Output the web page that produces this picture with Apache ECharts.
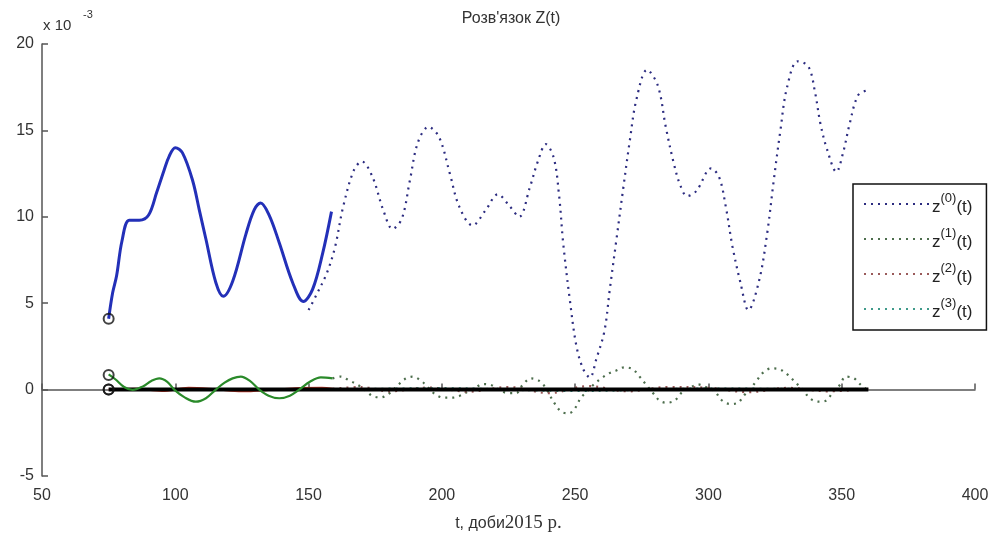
<!DOCTYPE html>
<html>
<head>
<meta charset="utf-8">
<script src="https://cdn.jsdelivr.net/npm/echarts@6/dist/echarts.min.js"></script>
<style>
    html, body { margin: 0; padding: 0; background: #fff; }
    #chart { width: 994px; height: 538px; }
</style>
</head>
<body>
<div id="chart"></div>
<script>
// ticks
var xTicks = { min: 50, max: 400, step: 50 }
var yTicks = { min: -5, max: 20, step: 5 }

// z(0): fitted part (solid) and forecast (dotted), in units of 1e-3
var z0Fit = [[75, 4.1], [76.5, 5.6], [78, 6.6], [80, 8.6], [82.7, 9.8], [86.5, 9.8], [90, 10.1], [93, 11.4],
    [95.8, 12.7], [97.7, 13.5], [100, 14.0], [102.7, 13.7], [106.5, 12.1], [109, 10.4], [111.5, 8.7],
    [115.2, 6.2], [118, 5.4], [121.6, 6.3], [126.5, 9.0], [129.6, 10.4], [132, 10.8], [135.2, 10.1],
    [139, 8.5], [144, 6.2], [148, 5.1], [151.5, 5.8], [155.3, 7.9], [158.6, 10.3]]
var z0Forecast = [[150, 4.6], [153, 5.5], [157, 6.8], [160, 8.3], [163, 10.6], [167, 12.7], [170, 13.2],
    [174, 12.3], [178, 10.4], [181.5, 9.3], [185, 9.9], [188, 12.1], [191, 14.3], [195, 15.2], [199, 14.6],
    [203, 12.5], [206.5, 10.6], [211.5, 9.5], [216.5, 10.4], [221, 11.3], [225.5, 10.6], [229, 10.0],
    [233, 11.7], [236, 13.2], [239, 14.2], [242, 13.4], [244, 11.2], [245.5, 8.5], [248, 5.2], [250.5, 2.5],
    [253, 1.2], [255.5, 0.7], [258, 1.8], [261, 3.4], [263, 5.8], [265.5, 8.7], [268, 11.6], [270.5, 14.4],
    [273, 16.8], [277, 18.5], [281, 17.6], [284, 15.2], [287, 13.1], [289.5, 11.8], [292, 11.2], [295.5, 11.5],
    [301, 12.8], [304, 12.3], [306.5, 10.6], [309, 8.3], [312, 6.2], [315, 4.6], [319, 6.3], [322, 9.0],
    [324.5, 12.1], [327, 15.0], [329.5, 17.5], [333.5, 19.0], [337.5, 18.7], [340, 17.2], [342, 15.4],
    [344.5, 13.9], [348, 12.6], [350.5, 13.7], [353, 15.4], [356, 17.0], [359, 17.3]]

// z(1)
var z1Fit = [[75, 0.88], [77.5, 0.6], [80.8, 0.15], [84, -0.02], [88, 0.2], [91, 0.5], [94, 0.65], [97, 0.45],
    [99.6, 0.0], [103.5, -0.45], [107.7, -0.7], [111.5, -0.5], [115.2, 0.0], [118.5, 0.4], [121.5, 0.65],
    [124.6, 0.75], [128, 0.5], [131.5, 0.0], [135, -0.35], [139, -0.5], [143, -0.35], [146.5, 0.0],
    [150.5, 0.45], [154.6, 0.71], [159, 0.65]]
var z1Forecast = [[159, 0.65], [162, 0.75], [165, 0.55], [168.5, 0.27], [171, 0.0], [174, -0.37], [177, -0.45],
    [180, -0.25], [183, 0.17], [186, 0.6], [189, 0.75], [192.3, 0.5], [195, 0.1], [197.8, -0.31], [201, -0.47],
    [203.8, -0.47], [206.6, -0.37], [209.7, -0.12], [212.5, 0.1], [215.3, 0.32], [218.4, 0.27], [221.6, -0.02],
    [224.7, -0.2], [227.9, -0.2], [230.3, 0.27], [233.5, 0.65], [236.6, 0.5], [239, 0.1], [240.4, -0.3],
    [242.3, -0.8], [244.8, -1.28], [247.7, -1.37], [250.3, -1.0], [252, -0.5], [254.5, -0.1], [257, 0.3],
    [259.8, 0.65], [262.7, 0.94], [265.4, 1.1], [268.5, 1.29], [271.7, 1.17], [274.4, 0.71], [276.7, 0.27],
    [279.2, -0.2], [281.7, -0.64], [284.2, -0.76], [287.3, -0.64], [289.8, -0.2], [293, 0.1], [296, 0.3],
    [299, 0.15], [302.4, -0.1], [304.9, -0.6], [308, -0.83], [310.7, -0.79], [313.6, -0.3], [316, 0.1],
    [318, 0.5], [320.5, 0.98], [323.6, 1.23], [326.8, 1.17], [329.9, 0.84], [333, 0.36], [335.5, 0.0],
    [338, -0.5], [341.2, -0.7], [344.1, -0.64], [346.8, -0.12], [349.3, 0.27], [351.5, 0.75], [354.6, 0.65],
    [357, 0.3], [359, 0.05]]

// z(2)
var z2Fit = [[75, 0], [85, 0.05], [95, -0.08], [105, 0.1], [115, 0.02], [125, -0.1], [135, -0.03], [145, 0.08],
    [155, 0.1], [159, 0.05]]
var z2Forecast = [[159, 0.05], [170, 0.15], [180, -0.1], [195, 0.12], [210, -0.12], [225, 0.15], [240, -0.2],
    [255, 0.2], [270, -0.1], [285, 0.15], [300, 0.1], [315, -0.15], [330, 0.1], [345, -0.1], [360, 0.05]]

// z(3)
var z3Forecast = [[159, 0], [200, 0.08], [250, -0.08], [300, 0.06], [360, 0]]
var zeroLine = [[75, 0], [360, 0]]

// initial values
var startPoints = [[75, 4.1], [75, 0.85], [75, 0], [75, 0]]

var legendNames = ['z0', 'z1', 'z2', 'z3']

var chart = echarts.init(document.getElementById('chart'))

function dotted(name, color, data) {
    return {
        name: name,
        type: 'line',
        data: data,
        smooth: 0.35,
        symbol: 'none',
        lineStyle: { color: color, width: 2.2, type: [2, 5] },
        itemStyle: { color: color },
        z: 2
    }
}
function solid(name, color, width, data) {
    return {
        name: name,
        type: 'line',
        data: data,
        smooth: 0.35,
        symbol: 'none',
        lineStyle: { color: color, width: width },
        z: 3
    }
}

chart.setOption({
    animation: false,
    backgroundColor: '#fff',
    title: {
        text: "Розв'язок Z(t)",
        left: 506,
        textAlign: 'center',
        top: 6,
        textStyle: { fontFamily: 'Liberation Sans', fontSize: 16, fontWeight: 'normal', color: '#333' }
    },
    graphic: [
        { type: 'text', left: 43, top: 18, style: { text: 'x 10', font: '15px "Liberation Sans"', fill: '#333' } },
        { type: 'text', left: 83, top: 9, style: { text: '-3', font: '11px "Liberation Sans"', fill: '#333' } }
    ],
    legend: {
        data: legendNames,
        orient: 'vertical',
        left: 853,
        top: 184,
        padding: [8, 14, 9, 10],
        itemWidth: 66,
        itemHeight: 12,
        itemGap: 11,
        backgroundColor: '#fff',
        borderColor: '#111',
        borderWidth: 1.5,
        itemStyle: { opacity: 0 },
        formatter: function (name) {
            return '{b|z}{sup|(' + name.slice(1) + ')}{b|(t)}'
        },
        textStyle: {
            color: '#222',
            padding: [0, 0, 0, -3],
            rich: {
                b: { fontFamily: 'Liberation Sans', fontSize: 17, lineHeight: 24, verticalAlign: 'bottom', color: '#222' },
                sup: { fontFamily: 'Liberation Sans', fontSize: 13, lineHeight: 24, verticalAlign: 'top', color: '#222' }
            }
        }
    },
    grid: { left: 42, right: 19, top: 44, bottom: 62, outerBoundsMode: 'none' },
    xAxis: {
        type: 'value',
        min: xTicks.min,
        max: xTicks.max,
        interval: xTicks.step,
        name: '{a|t, доби}{b|2015 р.}',
        nameLocation: 'middle',
        nameGap: 38,
        nameTextStyle: {
            rich: {
                a: { fontFamily: 'Liberation Sans', fontSize: 16, color: '#333' },
                b: { fontFamily: 'Liberation Serif', fontSize: 19, color: '#333' }
            }
        },
        axisLine: { lineStyle: { color: '#555', width: 1.5 } },
        axisTick: { inside: true, length: 6, lineStyle: { color: '#555', width: 1.5 } },
        axisLabel: { margin: 12, fontFamily: 'Liberation Sans', fontSize: 16, color: '#333' },
        splitLine: { show: false }
    },
    yAxis: {
        type: 'value',
        min: yTicks.min,
        max: yTicks.max,
        interval: yTicks.step,
        axisLine: { show: true, lineStyle: { color: '#555', width: 1.5 } },
        axisTick: { show: true, inside: true, length: 6, lineStyle: { color: '#555', width: 1.5 } },
        axisLabel: { margin: 8, fontFamily: 'Liberation Sans', fontSize: 16, color: '#333' },
        splitLine: { show: false }
    },
    series: [
        dotted('z0', '#2c2c80', z0Forecast),
        dotted('z1', '#4d6e4d', z1Forecast),
        dotted('z2', '#9a5a5a', z2Forecast),
        dotted('z3', '#3f9a8a', z3Forecast),
        solid('z0 fit', '#2330b8', 3, z0Fit),
        solid('z2 fit', '#c83a2a', 2, z2Fit),
        solid('zero', '#000', 4, zeroLine),
        solid('z1 fit', '#2a8a2a', 2.2, z1Fit),
        {
            name: 'start',
            type: 'scatter',
            data: startPoints,
            symbol: 'circle',
            symbolSize: 10,
            itemStyle: { color: 'rgba(255,255,255,0)', borderColor: '#111', borderWidth: 2 },
            z: 5
        }
    ]
})
</script>
</body>
</html>
